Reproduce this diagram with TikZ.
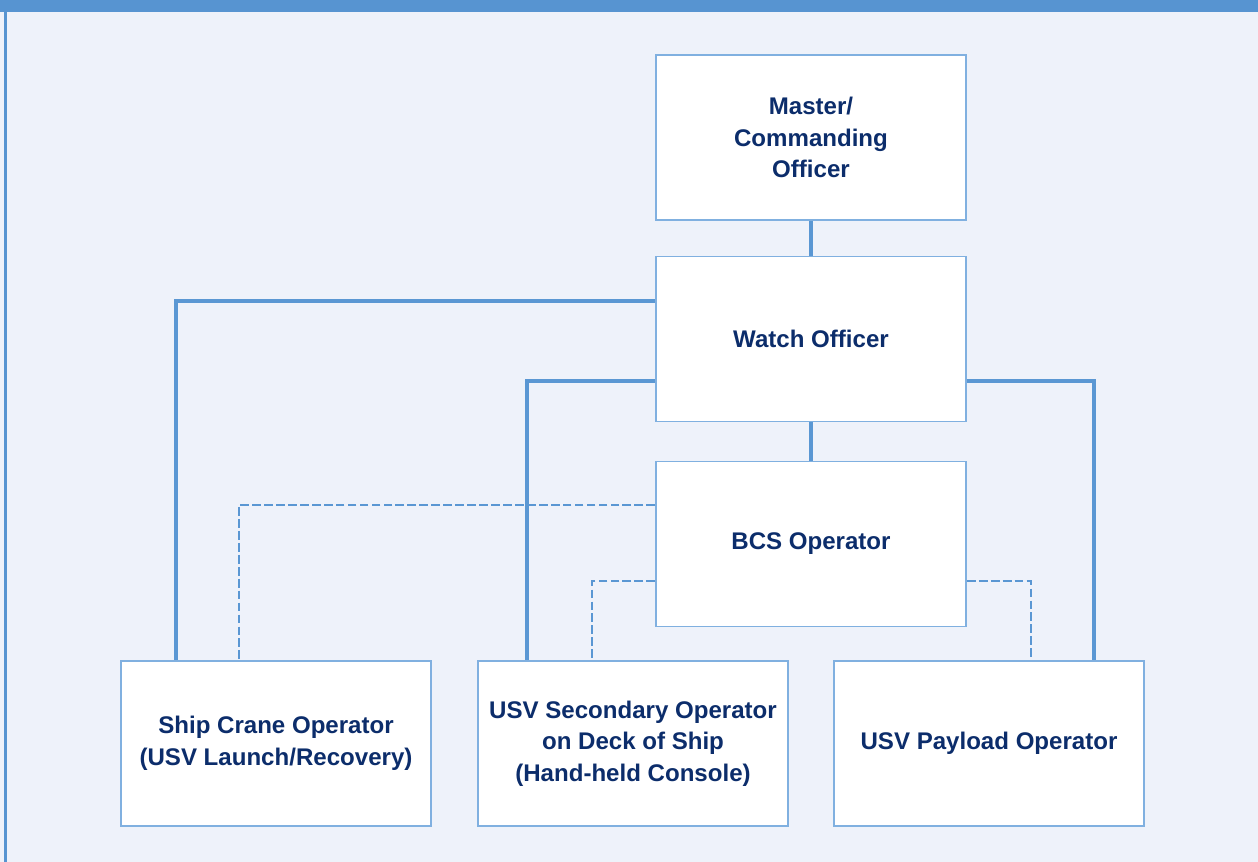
\documentclass[tikz,border=0pt]{standalone}
\usepackage{fontspec}
\setmainfont{Liberation Sans}
\definecolor{pagebg}{HTML}{EEF2FA}
\definecolor{barblue}{HTML}{5794D1}
\definecolor{linkblue}{HTML}{5A97D3}
\definecolor{boxedge}{HTML}{80B0E0}
\definecolor{navy}{HTML}{0C2D6B}
\begin{document}
\begin{tikzpicture}[x=0.02cm,y=-0.02cm,
  rolebox/.style={draw=boxedge,line width=1pt,fill=white,minimum width=310*0.02cm,
    minimum height=165*0.02cm,inner sep=0pt,align=center,text=navy,
    font=\fontsize{13.7}{18}\selectfont\bfseries},
  solidlink/.style={draw=linkblue,line width=1.75pt},
  dashlink/.style={draw=linkblue,line width=1.5pt,dash pattern=on 5pt off 1.8pt}]
  % page background, top bar and left rule
  \fill[pagebg] (0,0) rectangle (1258,862);
  \useasboundingbox (0,0) rectangle (1258,862);
  \fill[barblue] (0,0) rectangle (1258,12);
  \draw[barblue,line width=1.3pt] (5.5,12) -- (5.5,862);

  % role boxes
  \node[rolebox] (master) at (811,137.5) {Master/\\Commanding\\Officer};
  \node[rolebox] (watch) at (811,339) {Watch Officer};
  \node[rolebox] (bcs) at (811,544) {BCS Operator};
  \node[rolebox] (crane) at (276,743.5) {Ship Crane Operator\\(USV Launch/Recovery)};
  \node[rolebox] (second) at (633,743.5) {USV Secondary Operator\\on Deck of Ship\\(Hand-held Console)};
  \node[rolebox] (payload) at (989,743.5) {USV Payload Operator};

  % anchor points on box sides
  \coordinate (wl1) at (watch.west |- 0,301);
  \coordinate (wl2) at (watch.west |- 0,381);
  \coordinate (wr) at (watch.east |- 0,381);
  \coordinate (bl1) at (bcs.west |- 0,505);
  \coordinate (bl2) at (bcs.west |- 0,581);
  \coordinate (br) at (bcs.east |- 0,581);

  % command links
  \path[solidlink] (master.south) -- (watch.north);
  \path[solidlink] (watch.south) -- (bcs.north);
  \path[solidlink] (wl1) -| (crane.north -| 176,0);
  \path[solidlink] (wl2) -| (second.north -| 527,0);
  \path[solidlink] (wr) -| (payload.north -| 1094,0);

  % control links from the BCS operator
  \path[dashlink] (bl1) -| (crane.north -| 239,0);
  \path[dashlink] (bl2) -| (second.north -| 592,0);
  \path[dashlink] (br) -| (payload.north -| 1031,0);
\end{tikzpicture}
\end{document}
